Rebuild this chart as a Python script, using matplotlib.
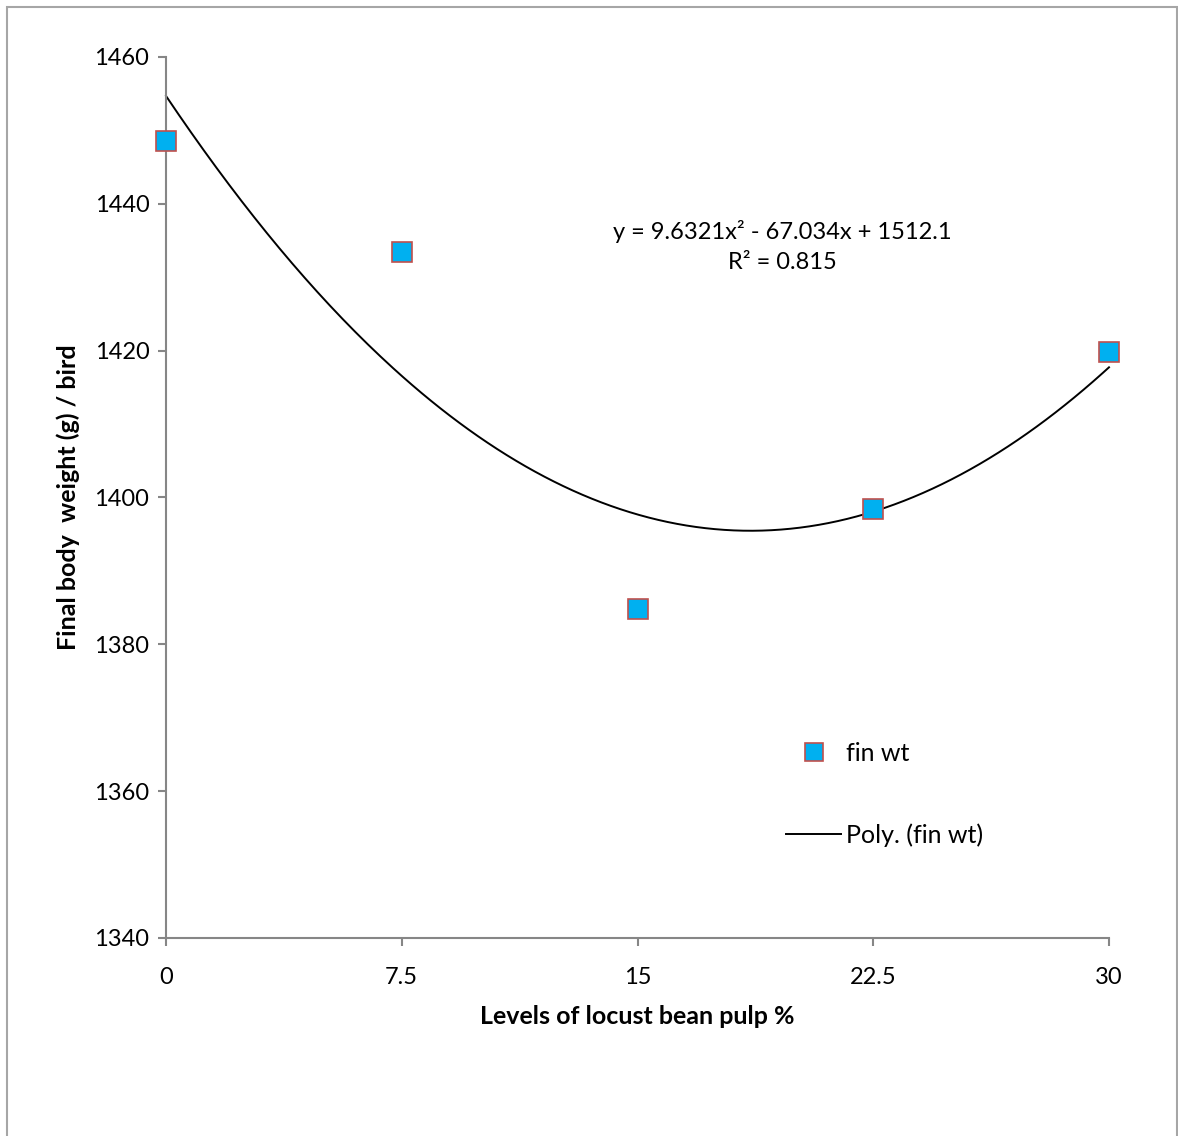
import numpy as np
import matplotlib.pyplot as plt
from matplotlib.patches import Rectangle

# levels of locust bean pulp in the diet (%)
levels = [0, 7.5, 15, 22.5, 30]
level_labels = ["0", "7.5", "15", "22.5", "30"]

# final body weight per bird (g)
fin_wt = [1448.6, 1433.4, 1384.8, 1398.4, 1419.8]

# quadratic trendline, fitted on category index 1..5
poly_coef = [9.6321, -67.034, 1512.1]
r_squared = 0.815

y_ticks = [1340, 1360, 1380, 1400, 1420, 1440, 1460]

plt.rcParams["font.family"] = ["Lato", "DejaVu Sans"]

axis_grey = "#868686"

fig = plt.figure(figsize=(11.78, 11.36), dpi=100)

# chart area border
fig.patches.append(
    Rectangle(
        (7 / 1178, -0.05),
        1170 / 1178,
        (1129 / 1136) + 0.05,
        transform=fig.transFigure,
        fill=False,
        edgecolor="#a6a6a6",
        linewidth=1.5
    )
)

ax = fig.add_axes([166 / 1178, 198 / 1136, 943 / 1178, 881 / 1136])

# trendline from the equation (x is the category index)
idx = np.linspace(1, 5, 300)
trend = np.polyval(poly_coef, idx)
trend_x = (idx - 1) * (levels[1] - levels[0])

ax.plot(
    trend_x,
    trend,
    color="black",
    linewidth=1.4,
    label="Poly. (fin wt)",
    zorder=2
)

ax.plot(
    levels,
    fin_wt,
    linestyle="none",
    marker="s",
    markersize=14,
    markerfacecolor="#00B0F0",
    markeredgecolor="#C0504D",
    markeredgewidth=1.2,
    label="fin wt",
    zorder=3
)

ax.set_xlim(levels[0], levels[-1])
ax.set_ylim(y_ticks[0], y_ticks[-1])

ax.set_xticks(levels)
ax.set_xticklabels(level_labels)
ax.set_yticks(y_ticks)

for side in ["top", "right"]:
    ax.spines[side].set_visible(False)

for side in ["left", "bottom"]:
    ax.spines[side].set_color(axis_grey)
    ax.spines[side].set_linewidth(1.5)

ax.tick_params(
    axis="both",
    direction="out",
    length=6,
    width=1.5,
    color=axis_grey,
    labelsize=17,
    labelcolor="black"
)
ax.tick_params(axis="y", pad=6)
ax.tick_params(axis="x", pad=15)

for line in ax.lines:
    line.set_clip_on(False)

ax.set_xlabel(
    "Levels of locust bean pulp %",
    fontsize=18,
    fontweight="bold",
    labelpad=12
)

ax.set_ylabel(
    "Final body  weight (g) / bird",
    fontsize=18,
    fontweight="bold",
    labelpad=10
)

eq_text = (
    f"y = {poly_coef[0]}x\u00b2 - {abs(poly_coef[1])}x + {poly_coef[2]}\n"
    f"R\u00b2 = {r_squared}"
)

ax.text(
    19.6,
    1434.2,
    eq_text,
    ha="center",
    va="center",
    fontsize=17,
    linespacing=1.55
)

handles, labels = ax.get_legend_handles_labels()

ax.legend(
    handles[::-1],
    labels[::-1],
    loc="center left",
    bbox_to_anchor=(0.634, 0.163),
    frameon=False,
    fontsize=18,
    handlelength=2.2,
    handletextpad=0.2,
    labelspacing=2.35,
    markerscale=0.9
)

fig.savefig("out.png", dpi=100)
